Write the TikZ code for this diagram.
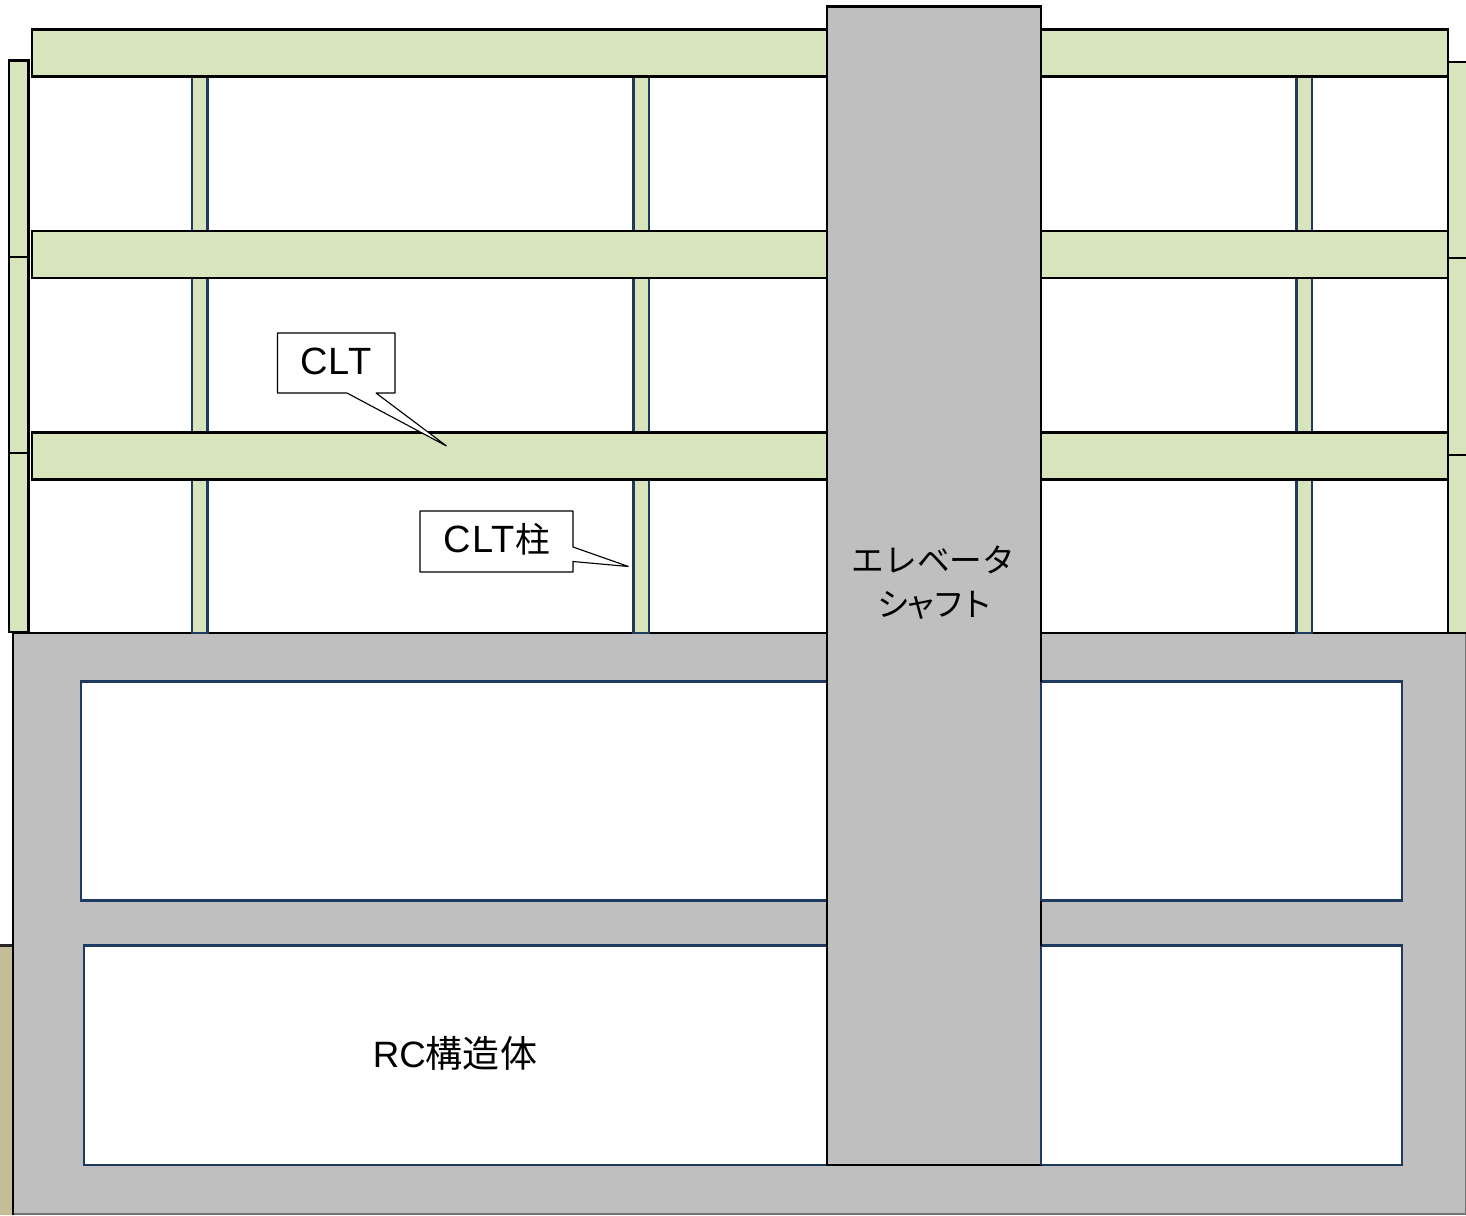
\documentclass[tikz,border=0pt]{standalone}
\usepackage{fontspec}
\setmainfont{Liberation Sans}
\newfontfamily\jpfont{Noto Sans CJK JP}
\definecolor{cltgreen}{HTML}{D8E4BC}
\definecolor{rcgray}{HTML}{BFBFBF}
\definecolor{navyline}{HTML}{1F3A5F}
\definecolor{soil}{HTML}{C4BD97}
\tikzset{
  x=0.75pt,y=-0.75pt,
  slab/.style={draw=black,line width=1.9pt,fill=cltgreen},
  wallp/.style={draw=black,line width=1.9pt,fill=cltgreen},
  clmn/.style={draw=navyline,line width=1.9pt,fill=cltgreen},
  rcbody/.style={fill=rcgray},
  win/.style={draw=navyline,line width=1.7pt,fill=white},
  callout/.style={draw=black,line width=0.85pt,fill=white,line join=bevel},
  lbl/.style={font=\fontsize{28.5pt}{32pt}\selectfont\addfontfeature{LetterSpace=4},inner sep=0pt,text=black},
  rclbl/.style={font=\fontsize{27.5pt}{30pt}\selectfont,inner sep=0pt,text=black},
  kana/.style={font=\jpfont\fontsize{24.5pt}{30pt}\selectfont,inner sep=0pt,text=black},
}
\begin{document}
\begin{tikzpicture}
\useasboundingbox (0,0) rectangle (1466,1215);
\clip (0,0) rectangle (1466,1215);
% ground
\fill[soil] (0,945) rectangle (13,1215);
\draw[draw=black!85,line width=2.2pt] (0,945.5) -- (13,945.5);
% RC body
\fill[rcbody] (13,633) rectangle (1466,1214);
\draw[black!55,line width=0.8pt] (13,1214) -- (1465.5,1214) -- (1465.5,633);
\draw[black,line width=1.9pt] (13,1215) -- (13,633) -- (1466,633);
% rooms
\draw[win] (81,681.5) rectangle (1402,900.5);
\draw[win] (84,945.5) rectangle (1402,1165);
% walls
\foreach \ya/\yb in {60.5/257,257/453,453/632}
  \draw[wallp] (9,\ya) rectangle (28.5,\yb);
\foreach \ya/\yb in {62/258,258/455,455/633}
  \draw[wallp] (1448,\ya) rectangle (1472,\yb);
% columns
\foreach \xa in {192,633.5,1296.5}
  \foreach \ya/\yb in {76.5/231,278/432.5,479.5/633}
    \draw[clmn] (\xa,\ya) rectangle (\xa+15.5,\yb);
% slabs
\foreach \ya in {29.5,231,432.5}
  \draw[slab] (32,\ya) rectangle (1448,\ya+47);
% shaft
\draw[fill=rcgray,draw=black,line width=1.9pt] (827,6.5) rectangle (1041,1165);
\draw[navyline,line width=1.7pt] (1041,681.5) -- (1041,900.5);
\draw[navyline,line width=1.7pt] (1041,945.5) -- (1041,1165);
% callouts
\draw[callout] (277.5,333) -- (395,333) -- (395,393) -- (376,393) -- (446.5,446) -- (347,393) -- (277.5,393) -- cycle;
\draw[callout] (420,511) -- (573,511) -- (573,547) -- (628.5,566.5) -- (573,561.5) -- (573,572) -- (420,572) -- cycle;
% labels
\node[lbl] (clt) at (336,361) {CLT};
\node[lbl] (cltcol) at (496.5,539.5) {CLT{\jpfont\fontsize{26pt}{30pt}\selectfont 柱}};
\node[kana] (ev1) at (933.5,560) {エレベータ};
\node[kana] (ev2) at (935,605) {\addfontfeature{LetterSpace=-15}シャフト};
\node[rclbl] (rc) at (455,1053) {RC{\jpfont\fontsize{27.8pt}{30pt}\selectfont 構造体}};
\end{tikzpicture}
\end{document}
